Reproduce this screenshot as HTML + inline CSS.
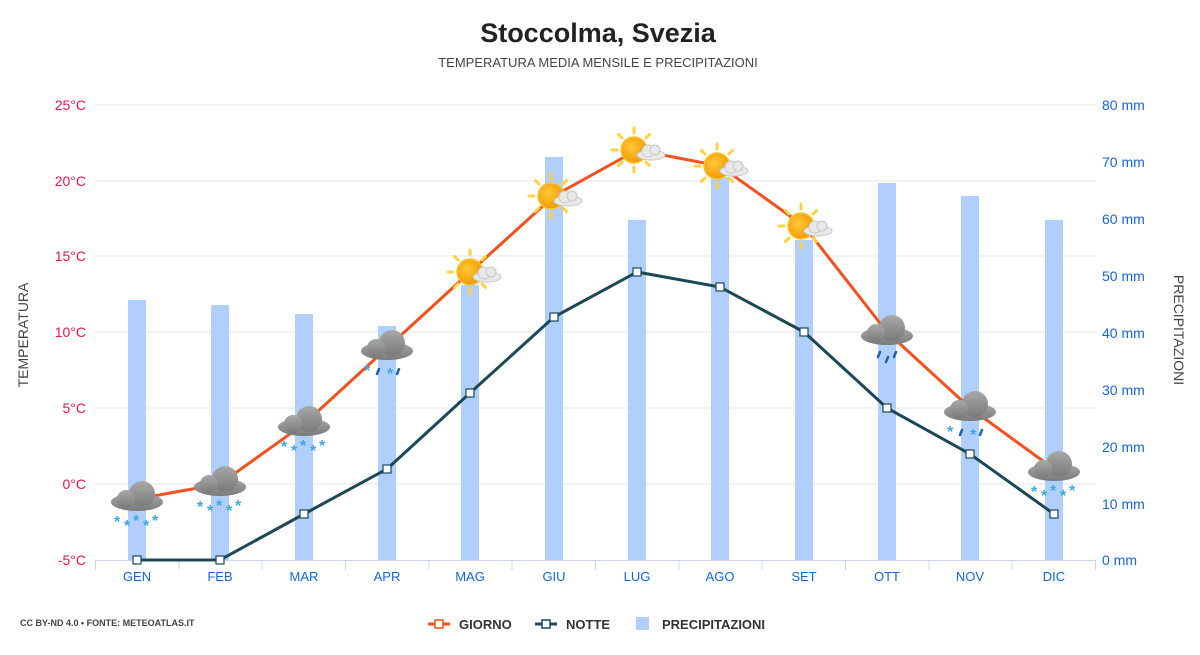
<!DOCTYPE html>
<html><head><meta charset="utf-8"><style>
body{margin:0;background:#fff;width:1200px;height:650px;overflow:hidden;font-family:"Liberation Sans",sans-serif}
</style></head><body>
<svg width="1200" height="650" xmlns="http://www.w3.org/2000/svg" font-family="Liberation Sans, sans-serif">
<defs>
<radialGradient id="sun" cx="0.4" cy="0.4" r="0.6"><stop offset="0" stop-color="#ffc83a"/><stop offset="1" stop-color="#f29a00"/></radialGradient>
<linearGradient id="cl" x1="0" y1="0" x2="0" y2="1"><stop offset="0" stop-color="#a8a8a8"/><stop offset="1" stop-color="#7a7a7a"/></linearGradient>
<g id="sunc">
<g stroke="#ffd23f" stroke-width="3" stroke-linecap="round">
<line x1="0" y1="-22" x2="0" y2="-17"/><line x1="0" y1="22" x2="0" y2="17"/><line x1="-22" y1="0" x2="-17" y2="0"/><line x1="22" y1="0" x2="17" y2="0"/>
<line x1="-15.5" y1="-15.5" x2="-12" y2="-12"/><line x1="15.5" y1="15.5" x2="12" y2="12"/><line x1="-15.5" y1="15.5" x2="-12" y2="12"/><line x1="15.5" y1="-15.5" x2="12" y2="-12"/>
</g>
<circle r="13" fill="url(#sun)" stroke="#f7c530" stroke-width="1.5"/>
<g fill="#e8e8e8" stroke="#c8c8c8" stroke-width="1"><ellipse cx="17" cy="5" rx="14" ry="5"/><circle cx="14" cy="1" r="6"/><circle cx="21" cy="0" r="5"/></g>
</g>
<g id="cloud">
<g fill="url(#cl)"><ellipse cx="0" cy="5" rx="26" ry="9"/><circle cx="5" cy="-3" r="13"/><circle cx="-11" cy="2" r="9"/></g>
</g>
<g id="snow" fill="#3fa9e0" font-size="16" font-weight="bold"><text x="-23" y="30">*</text><text x="-13" y="34">*</text><text x="-4" y="29">*</text><text x="6" y="34">*</text><text x="15" y="29">*</text></g>
<g id="mix"><text x="-23" y="30" fill="#3fa9e0" font-size="16" font-weight="bold">*</text><g stroke="#1e62b0" stroke-width="2.5" stroke-linecap="round"><line x1="-8" y1="23" x2="-10" y2="28"/><line x1="12" y1="23" x2="10" y2="28"/></g><text x="0" y="33" fill="#3fa9e0" font-size="16" font-weight="bold">*</text></g>
<g id="rain" stroke="#1e62b0" stroke-width="2.5" stroke-linecap="round"><line x1="-7" y1="21" x2="-9" y2="26"/><line x1="1" y1="26" x2="-1" y2="31"/><line x1="9" y1="21" x2="7" y2="26"/></g>
</defs>
<text x="598" y="42" text-anchor="middle" font-size="27" font-weight="bold" fill="#222">Stoccolma, Svezia</text>
<text x="598" y="67" text-anchor="middle" font-size="13" fill="#444">TEMPERATURA MEDIA MENSILE E PRECIPITAZIONI</text>
<g stroke="#e6e6e6" stroke-width="1">
<line x1="95" y1="105" x2="1096" y2="105"/><line x1="95" y1="181" x2="1096" y2="181"/><line x1="95" y1="256" x2="1096" y2="256"/><line x1="95" y1="332" x2="1096" y2="332"/><line x1="95" y1="408" x2="1096" y2="408"/><line x1="95" y1="484" x2="1096" y2="484"/>
</g>
<line x1="95" y1="560.5" x2="1096" y2="560.5" stroke="#ccd6eb"/>
<g stroke="#ccd6eb"><line x1="95.5" y1="560" x2="95.5" y2="570"/><line x1="179" y1="560" x2="179" y2="570"/><line x1="262" y1="560" x2="262" y2="570"/><line x1="345.5" y1="560" x2="345.5" y2="570"/><line x1="429" y1="560" x2="429" y2="570"/><line x1="512" y1="560" x2="512" y2="570"/><line x1="595.5" y1="560" x2="595.5" y2="570"/><line x1="679" y1="560" x2="679" y2="570"/><line x1="762" y1="560" x2="762" y2="570"/><line x1="845.5" y1="560" x2="845.5" y2="570"/><line x1="929" y1="560" x2="929" y2="570"/><line x1="1012" y1="560" x2="1012" y2="570"/><line x1="1095.5" y1="560" x2="1095.5" y2="570"/></g>
<g fill="#e8174c" font-size="14" text-anchor="end">
<text x="86" y="110">25°C</text><text x="86" y="186">20°C</text><text x="86" y="261">15°C</text><text x="86" y="337">10°C</text><text x="86" y="413">5°C</text><text x="86" y="489">0°C</text><text x="86" y="565">-5°C</text></g>
<g fill="#1565d8" font-size="14">
<text x="1102" y="110">80 mm</text><text x="1102" y="167">70 mm</text><text x="1102" y="224">60 mm</text><text x="1102" y="281">50 mm</text><text x="1102" y="338">40 mm</text><text x="1102" y="395">30 mm</text><text x="1102" y="452">20 mm</text><text x="1102" y="509">10 mm</text><text x="1102" y="565">0 mm</text></g>
<text transform="translate(28,335) rotate(-90)" text-anchor="middle" font-size="14" fill="#444">TEMPERATURA</text>
<text transform="translate(1174,330) rotate(90)" text-anchor="middle" font-size="14" fill="#444">PRECIPITAZIONI</text>
<g fill="#1565d8" font-size="13" text-anchor="middle">
<text x="137" y="581">GEN</text><text x="220" y="581">FEB</text><text x="304" y="581">MAR</text><text x="387" y="581">APR</text><text x="470" y="581">MAG</text><text x="554" y="581">GIU</text><text x="637" y="581">LUG</text><text x="720" y="581">AGO</text><text x="804" y="581">SET</text><text x="887" y="581">OTT</text><text x="970" y="581">NOV</text><text x="1054" y="581">DIC</text></g>
<g fill="#b0cffc">
<rect x="128" y="300" width="18" height="260"/><rect x="211" y="305" width="18" height="255"/><rect x="295" y="314" width="18" height="246"/><rect x="378" y="326" width="18" height="234"/><rect x="461" y="285" width="18" height="275"/><rect x="545" y="157" width="18" height="403"/><rect x="628" y="220" width="18" height="340"/><rect x="711" y="177" width="18" height="383"/><rect x="795" y="240" width="18" height="320"/><rect x="878" y="183" width="18" height="377"/><rect x="961" y="196" width="18" height="364"/><rect x="1045" y="220" width="18" height="340"/></g>
<polyline fill="none" stroke="#f4511e" stroke-width="3" points="137,499 220,484 304,424 387,348 470,272 554,196 637,150 720,166 804,226 887,332 970,408 1054,469"/>
<polyline fill="none" stroke="#1d4858" stroke-width="3" points="137,560 220,560 304,514 387,469 470,393 554,317 637,272 720,287 804,332 887,408 970,454 1054,514"/>
<g fill="#fff" stroke="#1d4858" stroke-width="1.2">
<rect x="133" y="556" width="8" height="8"/><rect x="216" y="556" width="8" height="8"/><rect x="300" y="510" width="8" height="8"/><rect x="383" y="465" width="8" height="8"/><rect x="466" y="389" width="8" height="8"/><rect x="550" y="313" width="8" height="8"/><rect x="633" y="268" width="8" height="8"/><rect x="716" y="283" width="8" height="8"/><rect x="800" y="328" width="8" height="8"/><rect x="883" y="404" width="8" height="8"/><rect x="966" y="450" width="8" height="8"/><rect x="1050" y="510" width="8" height="8"/></g>
<use href="#cloud" x="137" y="497"/><use href="#snow" x="137" y="497"/>
<use href="#cloud" x="220" y="482"/><use href="#snow" x="220" y="482"/>
<use href="#cloud" x="304" y="422"/><use href="#snow" x="304" y="422"/>
<use href="#cloud" x="387" y="346"/><use href="#mix" x="387" y="346"/>
<use href="#sunc" x="470" y="272"/>
<use href="#sunc" x="551" y="196"/>
<use href="#sunc" x="634" y="150"/>
<use href="#sunc" x="717" y="166"/>
<use href="#sunc" x="801" y="226"/>
<use href="#cloud" x="887" y="331"/><use href="#rain" x="887" y="331"/>
<use href="#cloud" x="970" y="407"/><use href="#mix" x="970" y="407"/>
<use href="#cloud" x="1054" y="467"/><use href="#snow" x="1054" y="467"/>
<text x="20" y="626" font-size="9" font-weight="bold" fill="#444">CC BY-ND 4.0 • FONTE: METEOATLAS.IT</text>
<line x1="428" y1="624" x2="450" y2="624" stroke="#f4511e" stroke-width="3"/><rect x="435" y="620" width="8" height="8" fill="#fff" stroke="#f4511e" stroke-width="1.5"/>
<text x="459" y="629" font-size="13" font-weight="bold" fill="#333">GIORNO</text>
<line x1="535" y1="624" x2="557" y2="624" stroke="#1d4858" stroke-width="3"/><rect x="542" y="620" width="8" height="8" fill="#fff" stroke="#1d4858" stroke-width="1.5"/>
<text x="566" y="629" font-size="13" font-weight="bold" fill="#333">NOTTE</text>
<rect x="636" y="617" width="13" height="13" fill="#b0cffc"/>
<text x="662" y="629" font-size="13" font-weight="bold" fill="#333">PRECIPITAZIONI</text>
</svg>
</body></html>
